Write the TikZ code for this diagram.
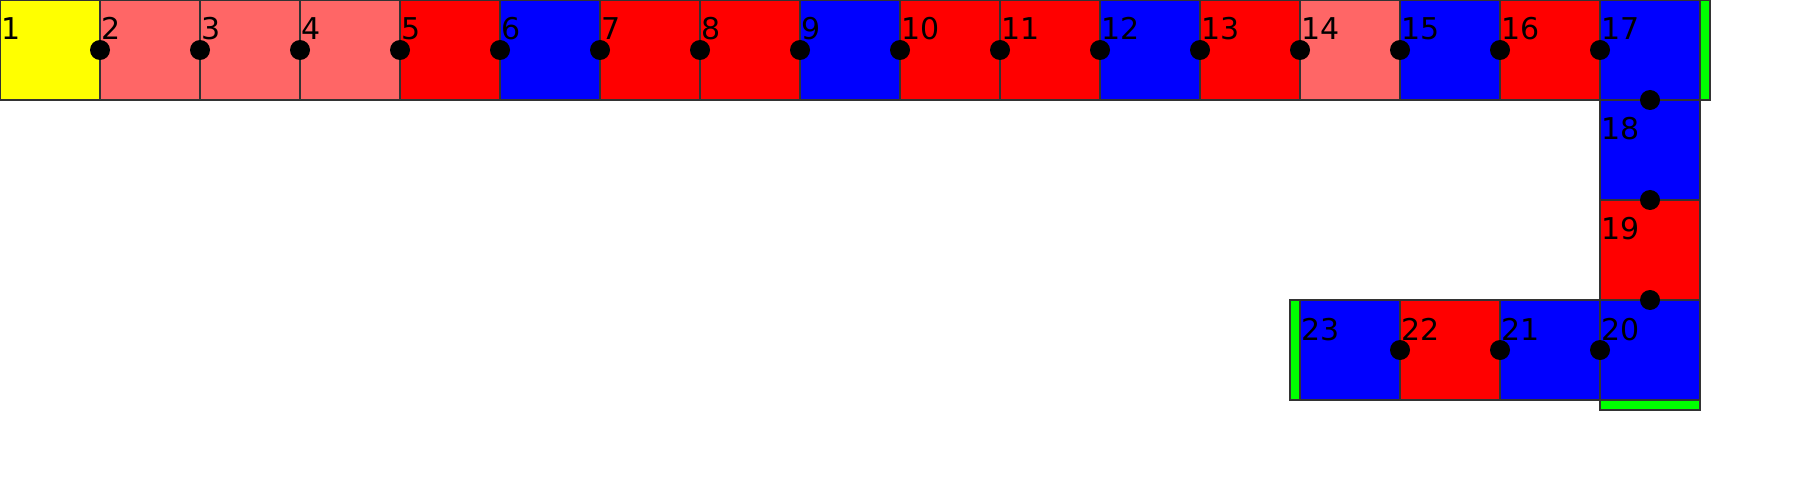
\documentclass[tikz,border=0pt]{standalone}
\usepackage{fontspec}
\setmainfont{DejaVu Sans}
\definecolor{cyel}{HTML}{FFFF00}
\definecolor{clr}{HTML}{FF6666}
\definecolor{cred}{HTML}{FF0000}
\definecolor{cblu}{HTML}{0000FF}
\definecolor{cgrn}{HTML}{00FF00}
\definecolor{edge}{HTML}{333333}
\begin{document}
\begin{tikzpicture}[x=1pt,y=-1pt,
  cell/.style={draw=edge,line width=1.3pt,minimum size=100pt,inner sep=0pt,outer sep=0pt,shape=rectangle},
  bar/.style={draw=edge,line width=1.3pt,fill=cgrn},
  dot/.style={circle,fill=black,inner sep=0pt,minimum size=20pt},
  lbl/.style={anchor=base west,inner sep=0pt,font=\fontsize{30}{36}\selectfont}]
\useasboundingbox (0,0) rectangle (1800,500);
% cells: number / left / top / colour
\foreach \k/\x/\y/\c in {1/0/0/cyel,2/100/0/clr,3/200/0/clr,4/300/0/clr,5/400/0/cred,
  6/500/0/cblu,7/600/0/cred,8/700/0/cred,9/800/0/cblu,10/900/0/cred,11/1000/0/cred,
  12/1100/0/cblu,13/1200/0/cred,14/1300/0/clr,15/1400/0/cblu,16/1500/0/cred,17/1600/0/cblu,
  18/1600/100/cblu,19/1600/200/cred,20/1600/300/cblu,21/1500/300/cblu,22/1400/300/cred,23/1300/300/cblu}
  {\node[cell,fill=\c] (s\k) at (\x+50,\y+50) {};}
% green end bars
\draw[bar] (1700,0) rectangle (1710,100);
\draw[bar] (1290,300) rectangle (1300,400);
\draw[bar] (1600,400) rectangle (1700,410);
% dots
\foreach \k/\x/\y in {2/100/50,3/200/50,4/300/50,5/400/50,6/500/50,7/600/50,8/700/50,
  9/800/50,10/900/50,11/1000/50,12/1100/50,13/1200/50,14/1300/50,15/1400/50,16/1500/50,
  17/1600/50,18/1650/100,19/1650/200,20/1650/300,21/1600/350,22/1500/350,23/1400/350}
  {\node[dot] (d\k) at (\x,\y) {};}
% labels
\foreach \k/\x/\y in {1/0/0,2/100/0,3/200/0,4/300/0,5/400/0,6/500/0,7/600/0,8/700/0,
  9/800/0,10/900/0,11/1000/0,12/1100/0,13/1200/0,14/1300/0,15/1400/0,16/1500/0,17/1600/0,
  18/1600/100,19/1600/200,20/1600/300,21/1500/300,22/1400/300,23/1300/300}
  {\node[lbl] (l\k) at (\x+1,\y+40) {\k};}
\end{tikzpicture}
\end{document}
